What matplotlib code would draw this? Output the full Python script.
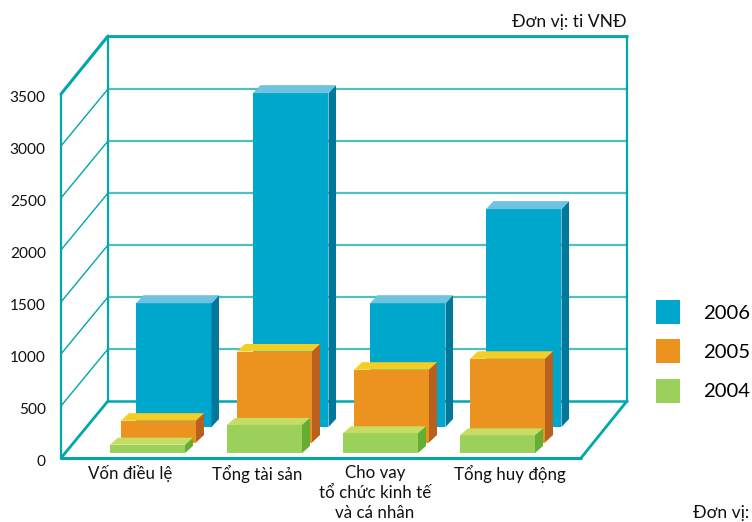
import matplotlib
matplotlib.use("Agg")
import matplotlib.pyplot as plt
from matplotlib.patches import Polygon, Patch
from matplotlib.transforms import ScaledTranslation

plt.rcParams['font.family'] = ['Lato', 'Noto Sans', 'DejaVu Sans']

categories = ['Vốn điều lệ', 'Tổng tài sản', 'Cho vay\ntổ chức kinh tế\nvà cá nhân', 'Tổng huy động']
years = ['2006', '2005', '2004']
v2006 = [1190, 3210, 1190, 2095]
v2005 = [210, 875, 700, 805]
v2004 = [80, 270, 190, 170]
yticks = [0, 500, 1000, 1500, 2000, 2500, 3000, 3500]

W, H = 752, 522
PX = 0.104             # pixels per value unit
L, R, T, B = 61, 627, 36, 458
DX, DY = 47, 57        # depth of the box, px
TEAL, GRID = '#00A7AD', '#50BFC3'

styles = {
    '2006': dict(front='#00A7CC', side='#00789C', top='#6DC3E0', lefts=[75, 192, 309, 425], width=75.5, base=31, sx=7.5, sy=8),
    '2005': dict(front='#EC931F', side='#B9601F', top='#F4CE24', lefts=[60, 176, 293, 409], width=75, base=15.5, sx=8, sy=7.5),
    '2004': dict(front='#9BD05A', side='#66AE33', top='#C4DD62', lefts=[49, 166, 282, 399], width=75, base=5, sx=8, sy=7),
}

fig = plt.figure(figsize=(W / 100, H / 100), dpi=100)
ax = fig.add_axes([L / W, 1 - B / H, (R - L) / W, (B - T) / H])
ax.set_xlim(0, R - L)
ax.set_ylim(0, (B - T) / PX)
for s in ax.spines.values():
    s.set_visible(False)
ax.patch.set_visible(False)


def line(x0, v0, x1, v1, color=TEAL, lw=1.5, z=1):
    ax.plot([x0, x1], [v0, v1], color=color, lw=lw, zorder=z, clip_on=False, solid_capstyle='round')


back_x = DX
back_v = DY / PX
right_front = 581 - L
right_back = R - L

for t in yticks[1:]:
    line(back_x, t + back_v, right_back, t + back_v, GRID, 1.6)
    line(0, t, back_x, t + back_v, TEAL, 1.0)
top_v = (B - T) / PX
line(back_x, back_v, back_x, top_v, TEAL, 1.6)
line(back_x, top_v, right_back, top_v, TEAL, 2.0)
line(right_back, back_v, right_back, top_v, TEAL, 1.6)
line(back_x, back_v, right_back, back_v, TEAL, 1.8)
line(0, 0, 0, 3500, TEAL, 1.6)
line(0, 3500, back_x, top_v, TEAL, 2.2)
line(0, 0, back_x, back_v, TEAL, 2.0)
line(0, 0, right_front, 0, TEAL, 2.2)
line(right_front, 0, right_back, back_v, TEAL, 2.0)

z = 3
for year, vals in zip(years, [v2006, v2005, v2004]):
    st = styles[year]
    base = st['base'] / PX
    sx, sy = st['sx'], st['sy'] / PX
    for left, v in zip(st['lefts'], vals):
        w = st['width']
        ax.bar(left, v, width=w, bottom=base, align='edge', color=st['front'], lw=0, zorder=z, clip_on=False)
        r, t = left + w, base + v
        ax.add_patch(Polygon([(r, base), (r + sx, base + sy), (r + sx, t + sy), (r, t)], closed=True,
                             fc=st['side'], lw=0, zorder=z, clip_on=False))
        ax.add_patch(Polygon([(left, t), (left + sx, t + sy), (r + sx, t + sy), (r, t)], closed=True,
                             fc=st['top'], lw=0, zorder=z, clip_on=False))
        z += 1

ax.set_yticks(yticks)
ax.set_yticklabels([str(t) for t in yticks], fontsize=11.1, color='#111111')
ax.set_xticks([130 - L, 257 - L, 375 - L, 510 - L])
ax.set_xticklabels(categories, fontsize=12.2, color='#111111', linespacing=1.3)
ax.tick_params(axis='both', length=0)
ax.tick_params(axis='y', pad=11)
ax.tick_params(axis='x', pad=5)
shift = ScaledTranslation(0, -2 / 100, fig.dpi_scale_trans)
for lab in ax.get_yticklabels():
    lab.set_transform(lab.get_transform() + shift)

fig.text(627 / W, 1 - 22 / H, 'Đơn vị: ti VNĐ', ha='right', va='center', fontsize=12.6, color='#111111')
fig.text(749 / W, 1 - 513 / H, 'Đơn vị:', ha='right', va='center', fontsize=12.6, color='#111111')

handles = [Patch(fc=styles[y]['front'], lw=0, label=y) for y in years]
ax.legend(handles=handles, loc='upper left', bbox_to_anchor=(656 / W, 1 - 300 / H),
          bbox_transform=fig.transFigure, frameon=False, fontsize=14.6, borderpad=0, borderaxespad=0,
          handlelength=24 / 20.3, handleheight=1.44, handletextpad=23 / 20.3, labelspacing=0.76)

fig.savefig('out.png', dpi=100)
